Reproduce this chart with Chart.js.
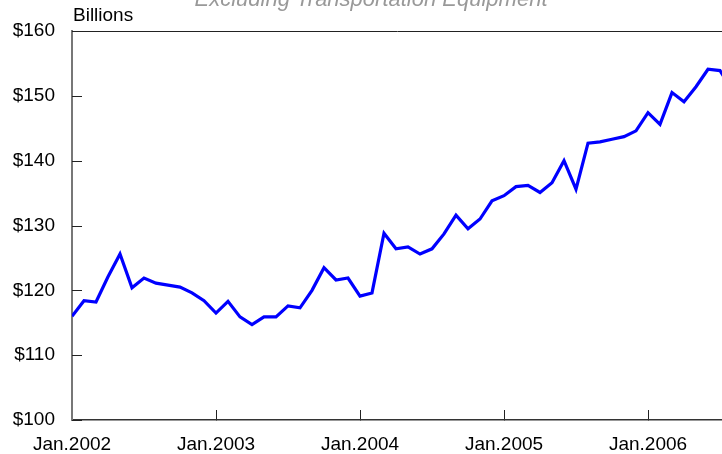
<!DOCTYPE html>
<html>
<head>
<meta charset="utf-8">
<script src="https://cdn.jsdelivr.net/npm/chart.js@4"></script>
<style>
  html, body { margin: 0; padding: 0; background: #fff; }
  #wrap { width: 722px; height: 454px; position: relative; }
</style>
</head>
<body>
<div id="wrap"><canvas id="chart"></canvas></div>
<script>
// ===== DATA =====
// months since Jan.2002, one value per month (billions of dollars)
const valores = [
    116.0, 118.4, 118.2, 122.1, 125.6, 120.4, 121.9, 121.1, 120.8, 120.5, 119.6, 118.4,
    116.5, 118.3, 115.9, 114.7, 115.9, 115.9, 117.6, 117.3, 120.0, 123.5, 121.6, 121.9,
    119.1, 119.6, 128.8, 126.4, 126.7, 125.6, 126.4, 128.7, 131.6, 129.5, 131.0, 133.8,
    134.6, 136.0, 136.2, 135.1, 136.6, 140.0, 135.6, 142.7, 142.9, 143.3, 143.7, 144.6,
    147.4, 145.6, 150.5, 149.1, 151.4, 154.1, 153.9, 151.0
];
const etiquetasX = ['Jan.2002', 'Jan.2003', 'Jan.2004', 'Jan.2005', 'Jan.2006'];
const ticksY = [100, 110, 120, 130, 140, 150, 160];
const titulo = 'Excluding Transportation Equipment';
const unidad = 'Billions';

const puntos = valores.map((v, i) => ({ x: i, y: v }));

const fuente = '"Liberation Sans", Arial, sans-serif';

// title, unit label and the inward y ticks
const textos = {
    id: 'textos',
    afterDraw(chart) {
        const ctx = chart.ctx;
        const y = chart.scales.y;
        ctx.save();
        ctx.strokeStyle = '#222';
        ctx.lineWidth = 1;
        ticksY.forEach(v => {
            const py = Math.round(y.getPixelForValue(v)) + 0.5;
            ctx.beginPath();
            ctx.moveTo(y.right, py);
            ctx.lineTo(y.right + 10, py);
            ctx.stroke();
        });
        ctx.textBaseline = 'alphabetic';
        ctx.fillStyle = '#999999';
        ctx.font = 'italic 22px ' + fuente;
        ctx.textAlign = 'center';
        ctx.fillText(titulo, 371, 6);
        ctx.fillStyle = '#000000';
        ctx.font = '19px ' + fuente;
        ctx.textAlign = 'left';
        ctx.fillText(unidad, 73, 21);
        ctx.restore();
    }
};

new Chart(document.getElementById('chart'), {
    type: 'line',
    data: {
        datasets: [{
            data: puntos,
            borderColor: '#0000ff',
            borderWidth: 3.2,
            pointRadius: 0,
            fill: false,
            tension: 0
        }]
    },
    options: {
        responsive: true,
        maintainAspectRatio: false,
        animation: false,
        layout: { padding: { top: 31, right: 0, left: 0, bottom: 0 } },
        plugins: {
            legend: { display: false },
            tooltip: { enabled: false }
        },
        scales: {
            x: {
                type: 'linear',
                min: 0,
                max: 650 / 12,
                afterFit: s => { s.height = 34; s.paddingLeft = 0; s.paddingRight = 0; },
                afterBuildTicks: s => { s.ticks = etiquetasX.map((_, i) => ({ value: i * 12 })); },
                ticks: {
                    color: '#000',
                    font: { family: fuente, size: 19 },
                    padding: 23,
                    maxRotation: 0,
                    callback: (v) => etiquetasX[v / 12]
                },
                grid: { drawOnChartArea: false, tickLength: -10, color: '#222', lineWidth: 1 },
                border: { color: '#333', width: 1.5 }
            },
            xTop: {
                type: 'linear',
                position: 'top',
                min: 0,
                max: 650 / 12,
                afterFit: s => { s.height = 0; s.paddingLeft = 0; s.paddingRight = 0; },
                ticks: { display: false },
                grid: { display: false },
                border: { color: '#222', width: 1 }
            },
            y: {
                min: 100,
                max: 160,
                afterFit: s => { s.width = 72; s.paddingTop = 0; s.paddingBottom = 0; },
                afterBuildTicks: s => { s.ticks = ticksY.map(v => ({ value: v })); },
                ticks: {
                    color: '#000',
                    font: { family: fuente, size: 19 },
                    padding: 9,
                    callback: v => '$' + v
                },
                grid: { display: false },
                border: { color: '#777', width: 2 }
            }
        }
    },
    plugins: [textos]
});
</script>
</body>
</html>
